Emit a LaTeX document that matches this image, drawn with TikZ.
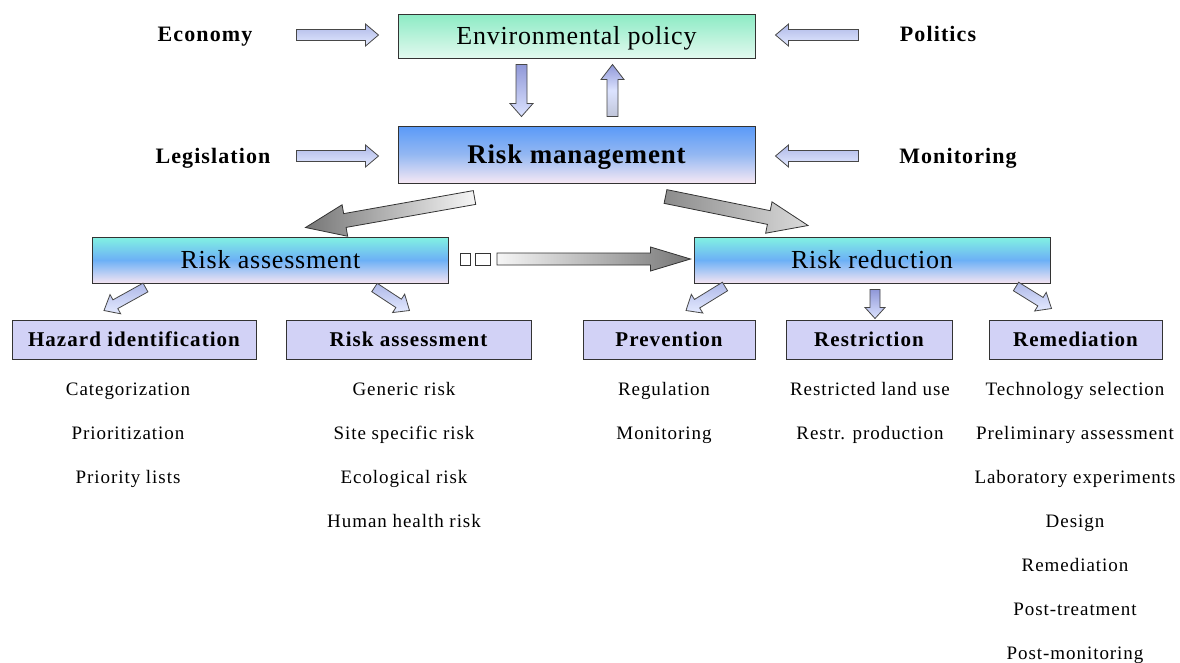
\documentclass[tikz,border=0pt]{standalone}
\usepackage{fontspec}
\setmainfont{Liberation Serif}
\newfontfamily\listfont[LetterSpace=5]{Liberation Serif}
\newfontfamily\titlefont[LetterSpace=3]{Liberation Serif}
\newfontfamily\subfont[LetterSpace=5]{Liberation Serif}
\newfontfamily\sidefont[LetterSpace=5]{Liberation Serif}
\usetikzlibrary{calc}
\definecolor{envtop}{HTML}{8CEBC4}
\definecolor{envbot}{HTML}{E2F9EF}
\definecolor{rmtop}{HTML}{5A9AF8}
\definecolor{rmmid}{HTML}{94B8F2}
\definecolor{rmbot}{HTML}{F6E8F4}
\definecolor{ratop}{HTML}{82F2E2}
\definecolor{ramid}{HTML}{6CB0F6}
\definecolor{rabot}{HTML}{F4E4F2}
\definecolor{subfill}{HTML}{D2D2F6}
\definecolor{lavdark}{HTML}{AEB8E8}
\definecolor{lavlight}{HTML}{E4EAFF}
\definecolor{lavvdark}{HTML}{9098D8}
\definecolor{lavvlight}{HTML}{DCE3FF}
\definecolor{greydark}{HTML}{767676}
\definecolor{greymid}{HTML}{8C8C8C}
\definecolor{greypale}{HTML}{DADADA}
\definecolor{greylight}{HTML}{F6F6F6}
\definecolor{edge}{HTML}{333333}

\newcommand{\blockarrow}[6]{%
  \coordinate (tmpC) at ($(#3)!#6!(#2)$);
  \path[#1] ($(#2)!#4!90:(#3)$) -- ($(tmpC)!#4!-90:(#2)$) -- ($(tmpC)!#5!-90:(#2)$)
    -- (#3) -- ($(tmpC)!#5!90:(#2)$) -- ($(tmpC)!#4!90:(#2)$) -- ($(#2)!#4!-90:(#3)$) -- cycle;
}

\tikzset{
  box/.style={draw=edge, line width=1pt, inner sep=0pt},
  envbox/.style={box, minimum width=357pt, minimum height=44pt, top color=envtop, bottom color=envbot, text height=18pt, text depth=1pt},
  rmbox/.style={box, minimum width=357pt, minimum height=57pt, top color=rmtop, bottom color=rmbot, middle color=rmmid, text height=19pt, text depth=1pt},
  midbox/.style={box, minimum width=356pt, minimum height=46pt, top color=ratop, bottom color=rabot, middle color=ramid, text height=18pt, text depth=1pt},
  subbox/.style={box, minimum height=39pt, fill=subfill, font=\subfont\bfseries\fontsize{21}{24}\selectfont, text height=15pt, text depth=1pt},
  listitem/.style={inner sep=0pt, font=\listfont\fontsize{19}{22}\selectfont, text height=14pt, text depth=2pt},
  sidelabel/.style={inner sep=0pt, font=\sidefont\bfseries\fontsize{22}{26}\selectfont, text height=16pt, text depth=2pt},
  lavh/.style={draw=edge!90, line width=0.8pt, top color=lavdark, bottom color=lavlight},
  lavdown/.style={draw=edge!90, line width=0.8pt, top color=lavvdark, bottom color=lavvlight},
  lavup/.style={draw=edge!90, line width=0.8pt, top color=lavvdark, bottom color=lavvlight!70!gray, middle color=lavvlight},
  lavd/.style={draw=edge!90, line width=0.8pt, top color=lavdark, bottom color=lavlight},
  greyarr/.style={draw=edge, line width=0.8pt, left color=greydark, right color=greylight},
  greyarrB/.style={draw=edge, line width=0.8pt, left color=greymid, right color=greypale},
  greyarrR/.style={draw=edge, line width=0.8pt, left color=greylight, right color=greydark},
}

\begin{document}
\begin{tikzpicture}[x=1pt, y=-1pt]
\useasboundingbox (0,0) rectangle (1180,662);

% main boxes
\node[envbox, font=\titlefont\fontsize{26}{30}\selectfont] (env) at (576.5,36) {Environmental policy};
\node[rmbox, font=\titlefont\bfseries\fontsize{27}{30}\selectfont] (rm) at (576.5,154.5) {Risk management};
\node[midbox, font=\titlefont\fontsize{26}{30}\selectfont] (ra) at (270.5,260) {Risk assessment};
\node[midbox, font=\titlefont\fontsize{26}{30}\selectfont] (rr) at (872,260) {Risk reduction};

% side labels
\node[sidelabel] (econ) at (205,34) {Economy};
\node[sidelabel] (pol) at (938,34) {Politics};
\node[sidelabel] (leg) at (213,156) {Legislation};
\node[sidelabel] (mon) at (958,156) {Monitoring};

% sub boxes
\node[subbox, minimum width=244pt] (hz) at (134,339.5) {Hazard identification};
\node[subbox, minimum width=245pt] (ras) at (408.5,339.5) {Risk assessment};
\node[subbox, minimum width=172pt] (prev) at (669,339.5) {Prevention};
\node[subbox, minimum width=166pt] (restr) at (869,339.5) {Restriction};
\node[subbox, minimum width=173pt] (rem) at (1075.5,339.5) {Remediation};

% lists
\node[listitem] (hz1) at (128,389) {Categorization};
\node[listitem] (hz2) at (128,433) {Prioritization};
\node[listitem] (hz3) at (128,477) {Priority lists};

\node[listitem] (ra1) at (404,389) {Generic risk};
\node[listitem] (ra2) at (404,433) {Site specific risk};
\node[listitem] (ra3) at (404,477) {Ecological risk};
\node[listitem] (ra4) at (404,521) {Human health risk};

\node[listitem] (pv1) at (664,389) {Regulation};
\node[listitem] (pv2) at (664,433) {Monitoring};

\node[listitem] (rs1) at (870,389) {Restricted land use};
\node[listitem] (rs2) at (870,433) {Restr. production};

\node[listitem] (rm1) at (1075,389) {Technology selection};
\node[listitem] (rm2) at (1075,433) {Preliminary assessment};
\node[listitem] (rm3) at (1075,477) {Laboratory experiments};
\node[listitem] (rm4) at (1075,521) {Design};
\node[listitem] (rm5) at (1075,565) {Remediation};
\node[listitem] (rm6) at (1075,609) {Post-treatment};
\node[listitem] (rm7) at (1075,653) {Post-monitoring};

% connector end points (relative to nodes)
\coordinate (econA) at ($(env.west)+(-101,-1)$);
\coordinate (econB) at ($(env.west)+(-19,-1)$);
\coordinate (polA) at ($(env.east)+(103,-1)$);
\coordinate (polB) at ($(env.east)+(20,-1)$);
\coordinate (legA) at ($(rm.west)+(-101,1.5)$);
\coordinate (legB) at ($(rm.west)+(-19,1.5)$);
\coordinate (monA) at ($(rm.east)+(103,1.5)$);
\coordinate (monB) at ($(rm.east)+(20,1.5)$);
\coordinate (dnA) at ($(env.south)+(-55,6)$);
\coordinate (dnB) at ($(rm.north)+(-55,-9)$);
\coordinate (upA) at ($(rm.north)+(36,-9)$);
\coordinate (upB) at ($(env.south)+(36,6)$);
\coordinate (glA) at ($(rm.south)+(-102,14)$);
\coordinate (glB) at ($(ra.north)+(35,-9)$);
\coordinate (grA) at ($(rm.south)+(89,13)$);
\coordinate (grB) at ($(rr.north)+(-64,-11)$);
\coordinate (ghA) at ($(ra.east)+(48,-1)$);
\coordinate (ghB) at ($(rr.west)+(-3,-1)$);

\coordinate (s1A) at ($(ra.south)+(-125,4)$);
\coordinate (s1B) at ($(hz.north)+(-30,-9)$);
\coordinate (s2A) at ($(ra.south)+(104,4)$);
\coordinate (s2B) at ($(ras.north)+(1,-9)$);
\coordinate (s3A) at ($(rr.south)+(-147,3)$);
\coordinate (s3B) at ($(prev.north)+(17,-9)$);
\coordinate (s4A) at ($(rr.south)+(3,6)$);
\coordinate (s4B) at ($(restr.north)+(6,-1)$);
\coordinate (s5A) at ($(rr.south)+(144,3)$);
\coordinate (s5B) at ($(rem.north)+(-24,-11)$);

% lavender block arrows
\blockarrow{lavh}{econA}{econB}{5.5pt}{11pt}{13pt}
\blockarrow{lavh}{legA}{legB}{5.5pt}{11pt}{13pt}
\blockarrow{lavh}{polA}{polB}{5.5pt}{11pt}{13pt}
\blockarrow{lavh}{monA}{monB}{5.5pt}{11pt}{13pt}
\blockarrow{lavdown}{dnA}{dnB}{5.5pt}{11.5pt}{13pt}
\blockarrow{lavup}{upA}{upB}{5.5pt}{11.5pt}{15pt}

\blockarrow{lavd}{s1A}{s1B}{5pt}{11pt}{13pt}
\blockarrow{lavd}{s2A}{s2B}{5pt}{11pt}{13pt}
\blockarrow{lavd}{s3A}{s3B}{5pt}{11pt}{13pt}
\blockarrow{lavdown}{s4A}{s4B}{5pt}{10pt}{11pt}
\blockarrow{lavd}{s5A}{s5B}{5pt}{11pt}{13pt}

% grey block arrows
\blockarrow{greyarr}{glA}{glB}{7pt}{16pt}{40pt}
\blockarrow{greyarrB}{grA}{grB}{7pt}{16pt}{40pt}
\blockarrow{greyarrR}{ghA}{ghB}{6pt}{12pt}{40pt}

% small squares before the horizontal arrow
\node[draw=edge, line width=0.8pt, fill=white, minimum width=10pt, minimum height=12pt, inner sep=0pt] (sq1) at ($(ra.east)+(16,-1)$) {};
\node[draw=edge, line width=0.8pt, fill=white, minimum width=15pt, minimum height=12pt, inner sep=0pt] (sq2) at ($(ra.east)+(34,-1)$) {};
\end{tikzpicture}
\end{document}
